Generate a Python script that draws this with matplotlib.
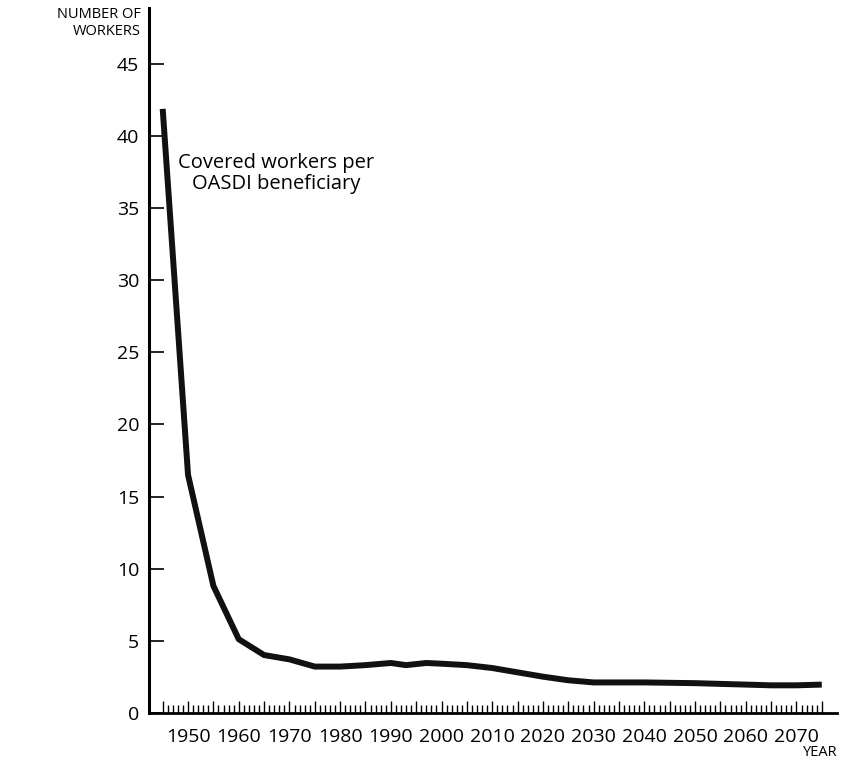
import matplotlib
matplotlib.use("Agg")
import matplotlib.pyplot as plt

plt.rcParams['font.family'] = ['Open Sans', 'DejaVu Sans']

years = [1945, 1950, 1955, 1960, 1965, 1970, 1975, 1980, 1985, 1990, 1993, 1997,
         2000, 2005, 2010, 2015, 2020, 2025, 2030, 2040, 2050, 2055, 2060, 2065,
         2070, 2075]
workers = [41.9, 16.5, 8.8, 5.1, 4.0, 3.7, 3.2, 3.2, 3.3, 3.45, 3.3, 3.45,
           3.4, 3.3, 3.1, 2.8, 2.5, 2.25, 2.1, 2.1, 2.05, 2.0, 1.95, 1.9,
           1.9, 1.95]

major_years = list(range(1945, 2076, 5))
minor_years = [y for y in range(1945, 2076) if y % 5]
ytick_vals = [0, 5, 10, 15, 20, 25, 30, 35, 40, 45]

W, H = 846, 761
fig = plt.figure(figsize=(W / 100, H / 100), dpi=100)
ax = fig.add_axes([149 / W, 1 - 712.7 / H, (837 - 149) / W, (712.7 - 8) / H])

ax.plot(years, workers, color='#111111', lw=4.3, solid_joinstyle='round',
        solid_capstyle='butt')

ax.set_xlim(1942.3, 2078)
ax.set_ylim(0, 48.9)

for s in ['top', 'right']:
    ax.spines[s].set_visible(False)
ax.spines['left'].set_linewidth(2.2)
ax.spines['bottom'].set_linewidth(2.0)

ax.set_yticks(ytick_vals)
ax.set_yticklabels([str(v) for v in ytick_vals])
ax.tick_params(axis='y', direction='in', length=11, width=1.2, labelsize=14, pad=7)

# tall ticks every 5 years, short ones each year, pointing up
ax.set_xticks(major_years)
ax.set_xticklabels(['' if y % 10 else str(y) for y in major_years])
ax.tick_params(axis='x', which='major', direction='in', length=8.5, width=1.0,
               labelsize=14, pad=11)
ax.set_xticks(minor_years, minor=True)
ax.tick_params(axis='x', which='minor', direction='in', length=5.5, width=1.0)

ax.text(1967.4, 37.4, 'Covered workers per\nOASDI beneficiary', ha='center',
        va='center', fontsize=14.5, linespacing=1.1)

fig.text(141 / W, 1 - 7 / H, 'NUMBER OF\nWORKERS', ha='right', va='top',
         fontsize=10.5, linespacing=1.15)
fig.text(838 / W, 1 - 753 / H, 'YEAR', ha='right', va='center', fontsize=10.5)

fig.savefig('out.png', dpi=100)
